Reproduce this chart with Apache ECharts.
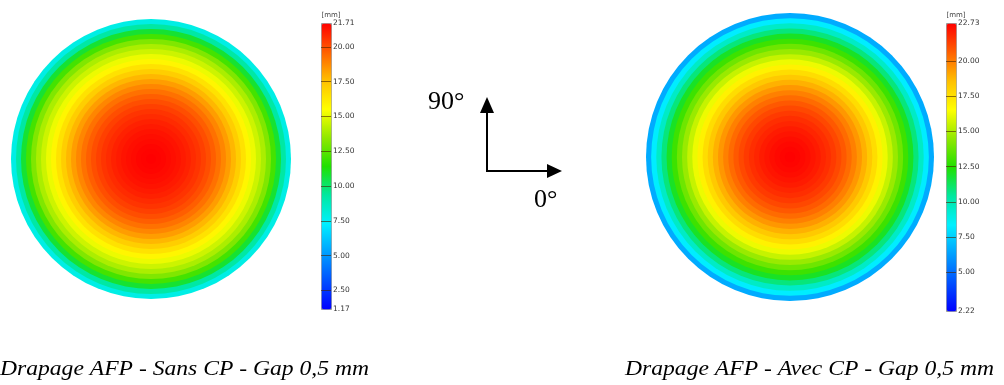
<!DOCTYPE html>
<html>
<head>
<meta charset="utf-8">
<script src="https://cdn.jsdelivr.net/npm/echarts@6/dist/echarts.min.js"></script>
<style>html,body{margin:0;padding:0;background:#fff}#c{width:1004px;height:385px}</style>
</head>
<body>
<div id="c"></div>
<script>
// Radial deflection profiles [mm], ring 0 = centre, outward
const leftProfile = [21.7,21.65,21.6,21.5,21.4,21.3,21.15,21.0,20.8,20.6,20.35,20.05,19.7,19.3,18.85,18.35,17.8,17.15,16.5,15.85,15.2,14.6,14.0,13.2,12.1,10.8,9.3,7.9];
const rightProfile = [22.7,22.65,22.55,22.45,22.3,22.15,21.95,21.75,21.5,21.2,20.85,20.45,20.0,19.5,18.95,18.35,17.7,17.0,16.25,15.5,14.7,13.9,13.0,12.0,10.9,9.6,8.3,6.6];
const ringLabels = leftProfile.map((v, i) => 'R' + i);

// Colour-bar ranges and tick labels
const leftRange = [1.17, 21.71];
const rightRange = [2.22, 22.73];
const leftTicks = [2.5, 5, 7.5, 10, 12.5, 15, 17.5, 20];
const rightTicks = [5, 7.5, 10, 12.5, 15, 17.5, 20];
const leftLabels = [1.17, 2.5, 5, 7.5, 10, 12.5, 15, 17.5, 20, 21.71];
const rightLabels = [2.22, 5, 7.5, 10, 12.5, 15, 17.5, 20, 22.73];

const captions = ['Drapage AFP - Sans CP - Gap 0,5 mm', 'Drapage AFP - Avec CP - Gap 0,5 mm'];
const axisText = ['90°', '0°'];

const palette = ['#0000ff','#0050ff','#00a0ff','#00f0ff','#00e8a0','#20e000','#90e800','#ffff00','#ffc000','#ff6000','#ff0000'];

const chart = echarts.init(document.getElementById('c'));

// outermost ring first so inner discs are painted on top (no seams)
function ringData(profile) {
  return profile.map((v, i) => [ringLabels[i], 0, v]).reverse();
}

function renderRing(params, api) {
  const cs = params.coordSys;
  const p = api.coord([api.value(0), 0]);
  const rMid = Math.hypot(p[0] - cs.cx, p[1] - cs.cy);
  const band = api.size([1, 0])[0];
  return {
    type: 'circle',
    shape: {cx: cs.cx, cy: cs.cy, r: rMid + band / 2},
    style: {fill: api.visual('color')}
  };
}

function barAxis(gridIndex, range, ticks, labels) {
  return {
    gridIndex: gridIndex, type: 'value', position: 'right', min: range[0], max: range[1], z: 10,
    name: '[mm]', nameLocation: 'end', nameGap: 4,
    nameTextStyle: {fontFamily: 'DejaVu Sans', fontSize: 7, color: '#444', padding: 0},
    axisLine: {show: false, onZero: false},
    splitLine: {show: false},
    axisTick: {show: true, inside: true, length: 10, customValues: ticks, lineStyle: {color: 'rgba(70,35,0,0.6)', width: 1}},
    axisLabel: {show: true, margin: 2, customValues: labels, fontFamily: 'DejaVu Sans', fontSize: 7.5, color: '#333',
      formatter: v => Number(v).toFixed(2)}
  };
}

const option = {
  animation: false,
  backgroundColor: '#fff',
  polar: [
    {center: [151, 159], radius: 140},
    {center: [790, 157], radius: 144}
  ],
  angleAxis: [
    {polarIndex: 0, type: 'value', min: 0, max: 360, show: false},
    {polarIndex: 1, type: 'value', min: 0, max: 360, show: false}
  ],
  radiusAxis: [
    {polarIndex: 0, type: 'category', data: ringLabels, show: false},
    {polarIndex: 1, type: 'category', data: ringLabels, show: false}
  ],
  grid: [
    {left: 321, top: 23, width: 10, height: 286, show: false},
    {left: 946, top: 23, width: 10, height: 288, show: false}
  ],
  xAxis: [
    {gridIndex: 0, type: 'value', show: false},
    {gridIndex: 1, type: 'value', show: false}
  ],
  yAxis: [
    barAxis(0, leftRange, leftTicks, leftLabels),
    barAxis(1, rightRange, rightTicks, rightLabels)
  ],
  visualMap: [
    {type: 'continuous', seriesIndex: 0, dimension: 2, min: leftRange[0], max: leftRange[1],
     left: 321, top: 23, itemWidth: 10, itemHeight: 286, padding: 0, calculable: false, text: null,
     borderColor: '#999', borderWidth: 1, hoverLink: false,
     inRange: {color: palette}},
    {type: 'continuous', seriesIndex: 1, dimension: 2, min: rightRange[0], max: rightRange[1],
     left: 946, top: 23, itemWidth: 10, itemHeight: 288, padding: 0, calculable: false, text: null,
     borderColor: '#999', borderWidth: 1, hoverLink: false,
     inRange: {color: palette}}
  ],
  series: [0, 1].map(k => ({
    type: 'custom', coordinateSystem: 'polar', polarIndex: k,
    silent: true,
    encode: {radius: 0, angle: 1},
    renderItem: renderRing,
    data: ringData(k === 0 ? leftProfile : rightProfile)
  })),
  graphic: [
    {type: 'line', shape: {x1: 487, y1: 171, x2: 487, y2: 111}, style: {stroke: '#000', lineWidth: 2}},
    {type: 'polygon', shape: {points: [[487, 97], [480, 113], [494, 113]]}, style: {fill: '#000'}},
    {type: 'line', shape: {x1: 486, y1: 171, x2: 549, y2: 171}, style: {stroke: '#000', lineWidth: 2}},
    {type: 'polygon', shape: {points: [[562, 171], [547, 164], [547, 178]]}, style: {fill: '#000'}},
    {type: 'text', x: 428, y: 89, style: {text: axisText[0], font: '26px "Liberation Serif"', fill: '#000', textVerticalAlign: 'top'}},
    {type: 'text', x: 534, y: 187, style: {text: axisText[1], font: '26px "Liberation Serif"', fill: '#000', textVerticalAlign: 'top'}},
    {type: 'text', x: 369, y: 370, scaleX: 1.18, style: {text: captions[0], font: 'italic 20px "Liberation Serif"', fill: '#000', textAlign: 'right', textVerticalAlign: 'middle'}},
    {type: 'text', x: 994, y: 370, scaleX: 1.18, style: {text: captions[1], font: 'italic 20px "Liberation Serif"', fill: '#000', textAlign: 'right', textVerticalAlign: 'middle'}}
  ]
};
chart.setOption(option);
</script>
</body>
</html>
